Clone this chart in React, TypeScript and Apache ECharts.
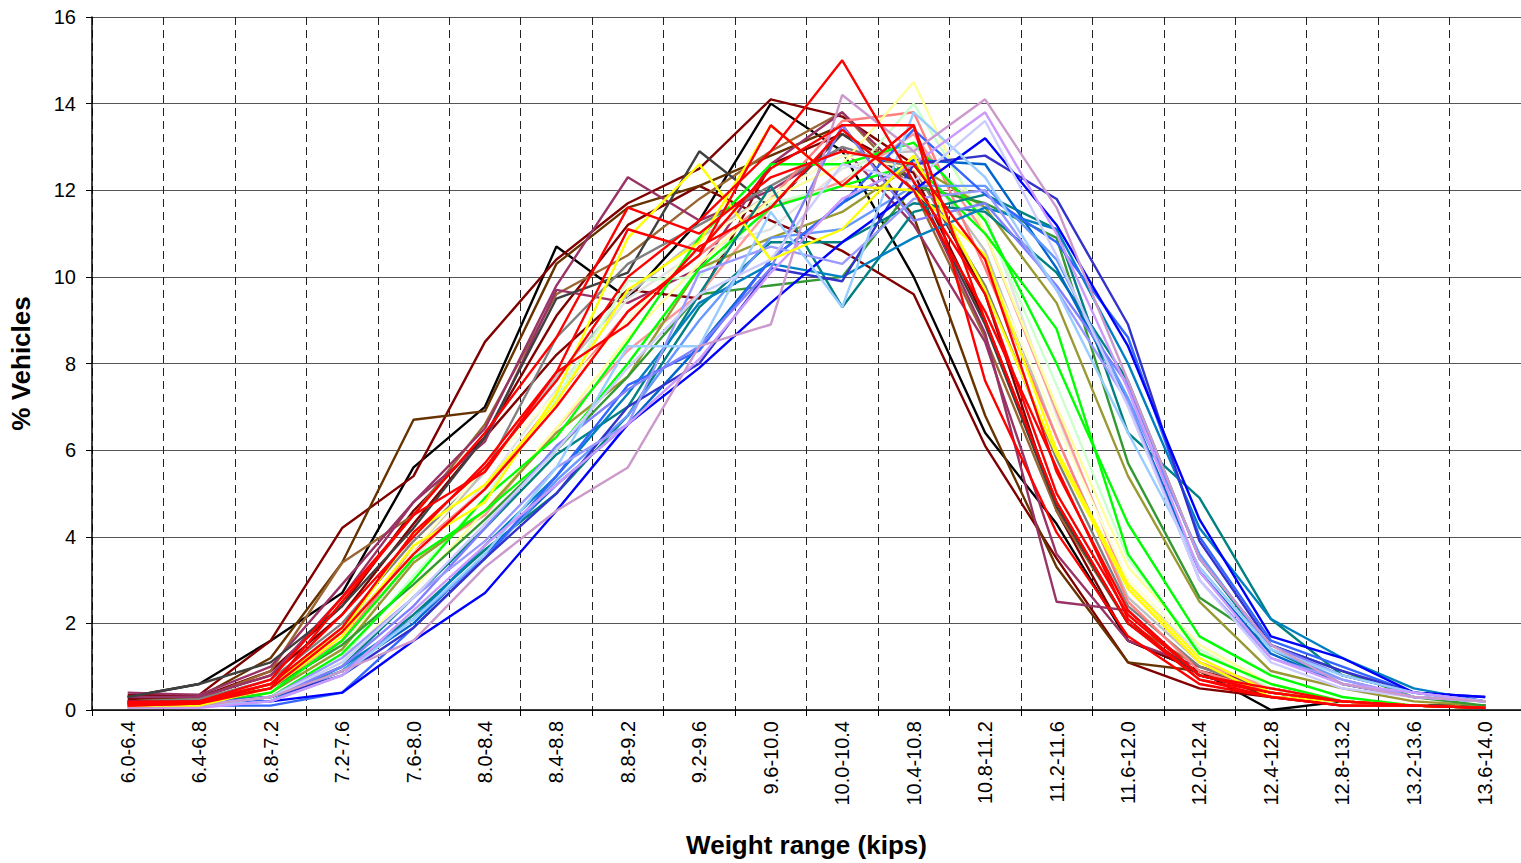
import React, { useEffect, useRef } from "react";
import * as echarts from "echarts";

const categories = [
  "6.0-6.4", "6.4-6.8", "6.8-7.2", "7.2-7.6", "7.6-8.0", "8.0-8.4", "8.4-8.8", "8.8-9.2", "9.2-9.6", "9.6-10.0",
  "10.0-10.4", "10.4-10.8", "10.8-11.2", "11.2-11.6", "11.6-12.0", "12.0-12.4", "12.4-12.8", "12.8-13.2", "13.2-13.6", "13.6-14.0",
];

const yTicks = [0, 2, 4, 6, 8, 10, 12, 14, 16];

// Per-site weight distributions (% vehicles per weight range)
const siteBlack = [0.3, 0.6, 1.6, 2.7, 5.6, 7.0, 10.7, 9.5, 11.3, 14.0, 12.9, 10.0, 6.4, 4.3, 1.6, 0.9, 0.0, 0.2, 0.1, 0.1];
const siteMaroonA = [0.35, 0.35, 1.6, 4.2, 5.4, 8.5, 10.4, 11.7, 12.5, 14.1, 13.7, 12.6, 9.6, 4.6, 1.6, 0.9, 0.5, 0.2, 0.1, 0.1];
const siteMaroonB = [0.25, 0.3, 0.9, 2.4, 4.6, 6.3, 9.1, 11.2, 12.1, 11.3, 10.6, 9.6, 6.1, 3.5, 1.1, 0.5, 0.3, 0.1, 0.1, 0.05];
const siteMaroonC = [0.3, 0.3, 0.8, 2.2, 4.3, 6.3, 8.2, 9.7, 9.5, 12.6, 13.3, 12.4, 9.0, 4.8, 2.0, 0.8, 0.4, 0.2, 0.1, 0.1];
const siteDarkBrown = [0.2, 0.3, 1.2, 3.4, 6.7, 6.9, 10.3, 11.6, 12.1, 12.8, 13.5, 11.4, 6.8, 3.3, 1.1, 0.9, 0.3, 0.2, 0.1, 0.1];
const siteBrown = [0.2, 0.25, 0.9, 3.4, 4.5, 6.6, 9.6, 10.5, 11.8, 12.9, 13.8, 12.0, 8.6, 4.6, 2.0, 1.0, 0.5, 0.2, 0.1, 0.1];
const sitePlumA = [0.4, 0.35, 1.0, 2.9, 4.8, 6.5, 9.8, 12.3, 11.3, 12.0, 13.0, 11.2, 8.5, 3.6, 1.6, 1.0, 0.5, 0.2, 0.1, 0.05];
const sitePlumB = [0.3, 0.3, 0.8, 2.6, 4.8, 6.2, 9.7, 9.4, 10.2, 12.6, 13.8, 12.2, 8.7, 2.5, 2.3, 0.8, 0.4, 0.2, 0.1, 0.05];
const siteDarkGray = [0.3, 0.6, 1.1, 2.4, 4.2, 6.3, 9.5, 10.1, 12.9, 11.6, 13.3, 12.2, 8.9, 4.7, 2.0, 0.8, 0.4, 0.2, 0.1, 0.1];
const siteRedA = [0.1, 0.15, 0.6, 1.9, 4.1, 5.6, 7.6, 10.0, 11.3, 12.9, 15.0, 12.2, 9.6, 5.0, 2.2, 0.8, 0.4, 0.2, 0.1, 0.05];
const siteRedB = [0.15, 0.2, 0.5, 2.5, 4.5, 6.4, 8.6, 11.6, 11.0, 12.3, 12.9, 12.6, 10.4, 5.5, 2.3, 0.8, 0.5, 0.2, 0.1, 0.05];
const siteRedC = [0.2, 0.2, 0.7, 2.6, 4.5, 5.5, 7.8, 11.1, 10.6, 12.5, 13.5, 13.5, 9.0, 4.8, 2.0, 0.7, 0.4, 0.2, 0.1, 0.05];
const siteRedD = [0.1, 0.15, 0.5, 1.8, 3.6, 5.1, 7.0, 9.2, 10.5, 13.5, 12.1, 13.5, 7.6, 4.1, 1.7, 0.6, 0.3, 0.1, 0.1, 0.05];
const siteRedE = [0.15, 0.2, 0.6, 2.2, 4.0, 5.7, 7.8, 8.9, 10.7, 11.6, 13.4, 12.0, 9.2, 5.6, 2.1, 0.7, 0.3, 0.1, 0.1, 0.05];
const siteYellowA = [0.1, 0.1, 0.5, 1.7, 3.8, 4.8, 7.3, 10.9, 12.6, 10.4, 11.1, 12.8, 9.7, 5.9, 2.8, 1.1, 0.3, 0.2, 0.1, 0.05];
const siteYellowB = [0.1, 0.15, 0.6, 1.8, 4.1, 5.2, 7.1, 9.7, 10.8, 13.5, 12.1, 12.0, 10.5, 6.0, 2.9, 1.2, 0.4, 0.2, 0.1, 0.05];
const siteLightYellow = [0.05, 0.1, 0.3, 1.1, 2.8, 4.6, 6.5, 8.6, 10.3, 11.8, 12.6, 14.5, 11.0, 7.0, 3.3, 1.5, 0.6, 0.2, 0.1, 0.05];
const siteCream = [0.1, 0.1, 0.4, 1.4, 3.7, 5.6, 7.3, 9.0, 10.8, 11.9, 12.8, 12.5, 10.4, 6.6, 3.0, 1.4, 0.6, 0.2, 0.1, 0.05];
const siteLightGreen = [0.05, 0.1, 0.3, 1.2, 3.1, 4.9, 7.2, 9.9, 10.0, 11.7, 12.1, 14.0, 11.3, 7.5, 3.5, 1.4, 0.5, 0.1, 0.1, 0.05];
const siteLimeA = [0.1, 0.1, 0.3, 1.3, 3.0, 4.9, 6.3, 8.5, 10.9, 12.6, 12.6, 13.1, 11.3, 8.0, 4.3, 1.7, 0.8, 0.3, 0.1, 0.05];
const siteLimeB = [0.1, 0.1, 0.4, 1.6, 3.5, 4.6, 6.0, 8.0, 10.2, 11.6, 12.1, 12.6, 11.0, 8.8, 3.6, 1.3, 0.6, 0.2, 0.1, 0.05];
const siteOlive = [0.1, 0.15, 0.4, 1.4, 3.4, 4.6, 6.4, 7.7, 10.2, 10.9, 11.5, 12.6, 11.6, 9.4, 5.4, 2.5, 0.9, 0.5, 0.2, 0.1];
const siteForest = [0.15, 0.2, 0.5, 1.5, 2.9, 4.4, 6.0, 7.7, 9.6, 9.8, 10.0, 12.1, 11.7, 10.9, 5.7, 2.6, 1.5, 0.9, 0.3, 0.1];
const siteTealA = [0.2, 0.2, 0.3, 1.0, 2.6, 4.2, 5.9, 7.0, 9.6, 12.1, 9.3, 11.5, 11.9, 11.1, 6.4, 4.9, 2.1, 0.8, 0.4, 0.2];
const siteTealB = [0.15, 0.15, 0.3, 0.9, 2.2, 3.7, 5.0, 6.8, 9.3, 10.8, 10.8, 11.7, 11.5, 10.1, 7.6, 3.5, 1.4, 0.6, 0.3, 0.2];
const siteCerulean = [0.15, 0.2, 0.2, 1.0, 2.1, 3.8, 5.4, 7.3, 9.4, 10.3, 10.0, 10.9, 11.6, 11.1, 8.0, 4.2, 2.1, 1.2, 0.5, 0.2];
const siteBlue = [0.2, 0.15, 0.2, 0.4, 1.6, 2.7, 4.6, 6.6, 7.9, 9.4, 10.8, 12.0, 13.2, 11.2, 8.4, 4.4, 1.7, 1.2, 0.4, 0.3];
const siteDarkBlue = [0.15, 0.1, 0.3, 0.8, 1.9, 3.5, 5.0, 7.0, 8.0, 10.2, 9.9, 12.6, 12.8, 11.8, 8.9, 3.9, 1.5, 0.9, 0.4, 0.3];
const siteRoyal = [0.1, 0.1, 0.1, 0.4, 1.9, 3.5, 5.4, 7.5, 8.3, 10.4, 11.7, 13.4, 11.9, 10.8, 8.6, 4.0, 1.6, 1.0, 0.4, 0.2];
const sitePeriwinkle = [0.1, 0.15, 0.3, 1.0, 2.4, 4.2, 6.1, 7.4, 8.4, 10.2, 13.5, 11.3, 11.7, 9.8, 7.5, 3.5, 1.5, 0.8, 0.4, 0.2];
const siteLightBlue = [0.05, 0.1, 0.2, 0.8, 2.1, 3.6, 5.6, 8.4, 8.4, 11.5, 9.3, 13.8, 12.3, 9.7, 6.4, 3.3, 1.4, 0.8, 0.4, 0.2];
const siteLavender = [0.05, 0.05, 0.2, 0.8, 2.3, 3.8, 5.2, 6.6, 8.1, 10.1, 11.8, 12.6, 13.8, 11.0, 7.4, 3.2, 1.2, 0.6, 0.4, 0.2];
const siteIris = [0.1, 0.1, 0.3, 1.2, 2.6, 3.9, 5.6, 6.6, 10.1, 10.7, 10.3, 11.8, 12.0, 9.7, 7.1, 3.0, 1.2, 0.7, 0.3, 0.2];
const sitePaleLavender = [0.05, 0.1, 0.3, 1.1, 2.6, 4.3, 6.0, 7.9, 9.6, 10.4, 12.6, 12.2, 13.6, 10.5, 7.0, 3.0, 1.1, 0.5, 0.3, 0.2];
const siteMauve = [0.05, 0.1, 0.3, 0.9, 1.6, 3.3, 4.6, 5.6, 8.4, 8.9, 14.2, 12.9, 14.1, 11.6, 7.6, 3.5, 1.5, 0.6, 0.3, 0.2];
const siteGray = [0.2, 0.25, 0.7, 2.0, 3.9, 5.5, 8.6, 10.3, 11.2, 12.1, 13.0, 12.5, 9.8, 5.8, 2.4, 1.0, 0.4, 0.2, 0.1, 0.05];
const siteSilver = [0.15, 0.2, 0.6, 1.8, 3.7, 5.5, 7.7, 9.6, 10.9, 11.9, 12.8, 12.9, 10.6, 6.3, 2.6, 1.1, 0.5, 0.2, 0.1, 0.05];
const siteLightGray = [0.1, 0.15, 0.5, 1.5, 3.5, 5.2, 7.4, 9.5, 10.6, 11.1, 12.5, 13.0, 11.5, 6.8, 2.9, 1.3, 0.6, 0.2, 0.1, 0.05];
const siteSalmon = [0.15, 0.2, 0.6, 1.6, 3.7, 5.1, 7.2, 9.2, 10.5, 11.8, 13.6, 13.8, 10.2, 6.3, 2.5, 0.9, 0.4, 0.2, 0.1, 0.05];
const sitePink = [0.1, 0.15, 0.5, 1.6, 3.5, 4.5, 6.5, 8.3, 9.6, 11.6, 12.2, 13.3, 11.0, 6.9, 2.8, 1.1, 0.5, 0.2, 0.1, 0.05];
const siteMidBlue = [0.15, 0.15, 0.3, 0.9, 2.0, 3.6, 5.2, 6.6, 8.4, 10.4, 11.7, 12.7, 12.6, 10.2, 7.1, 3.2, 1.3, 0.6, 0.3, 0.2];
const siteSky = [0.1, 0.1, 0.2, 0.9, 2.1, 3.5, 5.3, 6.8, 9.0, 10.9, 11.1, 12.1, 12.1, 10.4, 7.2, 3.6, 1.4, 0.7, 0.3, 0.2];

const seriesList = [
  { name: "Site 1", color: "#000000", data: siteBlack },
  { name: "Site 2", color: "#800000", data: siteMaroonA },
  { name: "Site 3", color: "#800000", data: siteMaroonB },
  { name: "Site 4", color: "#800000", data: siteMaroonC },
  { name: "Site 5", color: "#663300", data: siteDarkBrown },
  { name: "Site 6", color: "#996633", data: siteBrown },
  { name: "Site 7", color: "#993366", data: sitePlumA },
  { name: "Site 8", color: "#993366", data: sitePlumB },
  { name: "Site 9", color: "#404040", data: siteDarkGray },
  { name: "Site 10", color: "#808080", data: siteGray },
  { name: "Site 11", color: "#C0C0C0", data: siteSilver },
  { name: "Site 12", color: "#E3E3E3", data: siteLightGray },
  { name: "Site 13", color: "#FF8080", data: siteSalmon },
  { name: "Site 14", color: "#FF9999", data: sitePink },
  { name: "Site 15", color: "#FFFFCC", data: siteCream },
  { name: "Site 16", color: "#FFFF99", data: siteLightYellow },
  { name: "Site 17", color: "#CCFFCC", data: siteLightGreen },
  { name: "Site 18", color: "#999933", data: siteOlive },
  { name: "Site 19", color: "#339933", data: siteForest },
  { name: "Site 20", color: "#00FF00", data: siteLimeA },
  { name: "Site 21", color: "#00FF00", data: siteLimeB },
  { name: "Site 22", color: "#008080", data: siteTealA },
  { name: "Site 23", color: "#008080", data: siteTealB },
  { name: "Site 24", color: "#0080C0", data: siteCerulean },
  { name: "Site 25", color: "#0066CC", data: siteMidBlue },
  { name: "Site 26", color: "#6699FF", data: siteSky },
  { name: "Site 27", color: "#3366FF", data: siteRoyal },
  { name: "Site 28", color: "#3333CC", data: siteDarkBlue },
  { name: "Site 29", color: "#0000FF", data: siteBlue },
  { name: "Site 30", color: "#8080FF", data: sitePeriwinkle },
  { name: "Site 31", color: "#9999FF", data: siteIris },
  { name: "Site 32", color: "#99CCFF", data: siteLightBlue },
  { name: "Site 33", color: "#CC99FF", data: siteLavender },
  { name: "Site 34", color: "#CCCCFF", data: sitePaleLavender },
  { name: "Site 35", color: "#CC99CC", data: siteMauve },
  { name: "Site 36", color: "#FFFF00", data: siteYellowA },
  { name: "Site 37", color: "#FFFF00", data: siteYellowB },
  { name: "Site 38", color: "#FF0000", data: siteRedA },
  { name: "Site 39", color: "#FF0000", data: siteRedB },
  { name: "Site 40", color: "#FF0000", data: siteRedC },
  { name: "Site 41", color: "#FF0000", data: siteRedD },
  { name: "Site 42", color: "#FF0000", data: siteRedE },
];

const FONT = "'Liberation Sans', Arial, sans-serif";

export default function App() {
  const ref = useRef<HTMLDivElement>(null);

  useEffect(() => {
    if (!ref.current) return;
    const chart = echarts.init(ref.current, undefined, { renderer: "svg" });
    chart.setOption({
      animation: false,
      backgroundColor: "#ffffff",
      grid: { left: 92, top: 17, right: 0, bottom: 152, containLabel: false },
      xAxis: {
        type: "category",
        data: categories,
        boundaryGap: true,
        name: "Weight range (kips)",
        nameLocation: "middle",
        nameGap: 122,
        nameTextStyle: { fontFamily: FONT, fontSize: 26, fontWeight: "bold", color: "#000" },
        axisLine: { lineStyle: { color: "#000", width: 1.5 } },
        axisTick: { show: true, alignWithLabel: false, length: 6, inside: false, lineStyle: { color: "#000" } },
        axisLabel: {
          rotate: 90,
          interval: 0,
          margin: 11,
          fontFamily: FONT,
          fontSize: 20,
          color: "#000",
        },
        splitLine: {
          show: true,
          interval: 0,
          lineStyle: { color: "#222", width: 1, type: [8, 5] },
        },
      },
      yAxis: {
        type: "value",
        min: yTicks[0],
        max: yTicks[yTicks.length - 1],
        interval: 2,
        name: "% Vehicles",
        nameLocation: "middle",
        nameGap: 58,
        nameRotate: 90,
        nameTextStyle: { fontFamily: FONT, fontSize: 26, fontWeight: "bold", color: "#000" },
        axisLine: { show: true, lineStyle: { color: "#000", width: 1.5 } },
        axisTick: { show: true, length: 6, lineStyle: { color: "#000" } },
        axisLabel: { margin: 16, fontFamily: FONT, fontSize: 20, color: "#000" },
        splitLine: { show: true, lineStyle: { color: "#555", width: 1 } },
      },
      series: seriesList.map((s) => ({
        name: s.name,
        type: "line",
        data: s.data,
        showSymbol: false,
        symbol: "none",
        lineStyle: { color: s.color, width: 2.4 },
        itemStyle: { color: s.color },
        emphasis: { disabled: true },
      })),
    });
    return () => chart.dispose();
  }, []);

  return (
    <div
      ref={ref}
      style={{ position: "fixed", left: 0, top: 0, width: 1521, height: 863, background: "#fff" }}
    />
  );
}
